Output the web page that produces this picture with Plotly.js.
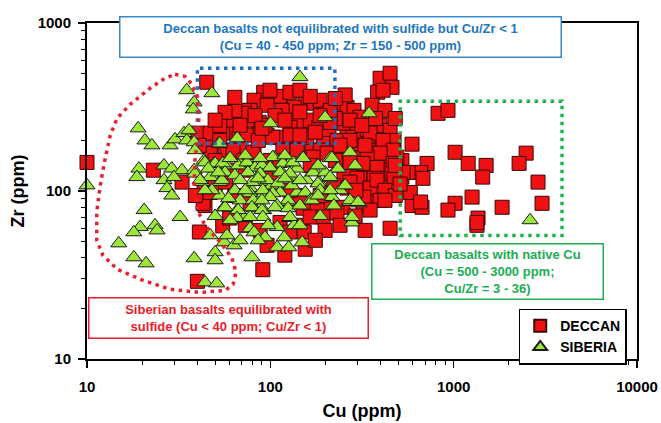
<!DOCTYPE html>
<html><head><meta charset="utf-8">
<script src="https://cdn.plot.ly/plotly-3.0.1.min.js"></script>
<style>html,body{margin:0;padding:0;background:#fff}#chart{width:661px;height:423px}</style>
</head><body><div id="chart"></div>
<script>
// ---- Data (Cu ppm, Zr ppm) ----
var deccanCu = [10,45,23,33,41,55,40,91,155,44,43.5,450,217,149,153,96,60,
 397,450,385,461,412,
 822,931,593,522,716,1018,1200,1503,1440,2485,2275,2885,3034,1837,1260,1358,1340,1018,931,593,672,580,660,660,680,564,522,1340,
 92,113,81.5,155,173,135,116,77.5,96,246,262,286,308,
 140,165,128,87,74.6,184,155,209,252,297,337,397,450,397,473,113,96,262,297,81.5,169,196,252,297,359,407,450,490,368,324,417,123,140,
 72,70,49,60,67.5,48,58,68,
 158,194,231,283,350,412,467,397,337,320,382,467,491,433,363,308,272,337,363,320,249,212,180,151,165,194,231,256,187,204,171,530,461,
 40,47,55,74.6,88,103,128,80.5,62.6,117,140,47,43,39,47,
 252,297,368,350,324,262,272,199,473,382,
 50,64,77.5,113,88,128,73,106,145,128,187,222,293,422,397,480,
 93.5,60,53,64,106,199,226,145,86,71,100,226,272,60,50,41,53,176,212,272,329,113,165,57,73,100,
 64,99.6,128,187,212,359,422,480,272,240,316,375,82.5,120,145,90,68.4,56.6,50,187,256,145,165,226,480,510,422,350,290,240,199,176,120,329];
var deccanZr = [148,444,133,113,57,62,29,34,45,82,98,60,80,62.5,57,47.5,69,
 469,502,387,414,398,
 290,302,190,152,146,170,146,142,121,168,146,113,84.5,80,92,69,62.5,84.5,77,82,80,98,86,129,119,129,121,65,
 387,366,347,351,333,315,302,302,324,333,315,302,275,
 256,264,239,256,264,239,215,221,253,239,224,246,230,200,200,209,215,209,192,170,175,180,168,157,175,180,157,159,138,133,133,175,182,
 302,290,215,224,206,182,175,180,
 209,192,200,209,221,200,175,168,159,146,138,146,121,119,116,119,127,101,88,82,80,79,77,79,70,70,74,133,175,168,159,129,127,
 221,221,221,215,221,209,215,170,175,175,175,168,84.5,94,98,
 124,119,119,104,92,104,113,98,119,116,
 108,94,84.5,65,58.3,57,62.5,108,94,101,94,108,101,101,88,94,
 246,264,246,302,281,296,270,296,200,152,152,152,148,133,152,187,200,224,256,200,187,152,142,113,133,119,
 361,398,387,347,302,324,302,270,264,187,246,270,281,264,215,236,246,294,264,281,373,398,366,355,142,110,88,77,71,62.5,58.3,50.9,41.5,58.3];

var siberiaCu = [10,35,48,38.4,38,145,19,20.7,22.6,28.4,30.2,33.8,35,38.4,36,52.5,66,43.5,49.3,58,68.4,19.2,26.3,29,33,38.4,18.7,26.3,29.8,27.3,29,20.5,19.5,18,23.5,24.1,32.2,14.9,18,21,38.4,50,50,44,51,56,63.4,42.4,53,63.4,56,66,72,58,
 199,100,346,272,105,149,212,128,231,81.5,92,113,140,173,
 88,77.5,102,128,158,184,209,113,140,155,90,81.5,92,109,123,165,240,217,272,305,279,77.5,81.5,93.5,109,128,135,119,109,126,149,79.4,
 53,38.8,44,50,55,66.7,74.6,82.5,90,103,99.6,117,133,38.8,47,56.6,64,75.5,88,113,128,41.4,54.5,79.4,97,110,131,64,77.5,91,103,53,125,68.4,80.5,99.6,109,56.6,66.7,79.4,90,106,125,91,65.8,77.5,128,
 217,234,151,171,199,212,182,187,169,272,301,279,2612,
 45.9,60.3,73,88,120,52,68.4,85.7,120,145,48,59.2,73,90,145,182,212,256,50,60.3,97,145,187,222,47,68.4,85.7,44,290,182];
var siberiaZr = [108,398,382,337,306,476,236,200,187,187,203,221,200,195,230,192,206,152,146,142,146,136,142,136,133,133,121,116,121,104,94,77,61,56.8,62.5,58.3,70,48.8,40.3,37.1,39.8,43.2,38.7,28.6,28.2,49.5,47.5,113,113,101,80,77,69,54.5,
 275,253,290,170,159,157,157,148,136,138,138,133,136,133,
 113,104,108,119,116,113,119,98,98,98,94,79,77,80,86,88,101,92,86,84.5,65,60,56.8,53,61,69,62.5,53,46.2,46.2,49.5,40.3,
 192,175,148,146,146,142,148,138,142,159,138,146,148,127,121,129,124,129,127,129,127,116,116,113,116,111,108,101,97,101,97,94,88,88,88,92,82,80,77,80,77,80,79,70,69,70,70,
 157,136,157,129,129,121,111,101,88,88,86,70,67,
 136,157,163,157,163,129,116,119,119,116,101,90.5,101,88,82,94,101,108,71,67,62.5,62.5,71,82,54.5,50.9,50.9,101,142,142];

var seriesNames = ['DECCAN', 'SIBERIA'];
var xTitle = 'Cu (ppm)';
var yTitle = 'Zr (ppm)';
var xTickVals = [10, 100, 1000, 10000];
var xTickText = ['10', '100', '1000', '10000'];
var yTickVals = [10, 100, 1000];
var yTickText = ['10', '100', '1000'];

// Outlined field regions (Cu, Zr)
var blueBoxCu = [40, 225], blueBoxZr = [192, 537];
var greenBoxCu = [511, 3900], greenBoxZr = [54.3, 342];
var siberiaFieldCu = [30.2,34.2,37.4,40,40.8,40.3,38.8,38.4,40,44,54.5,61.8,65,62.6,56.6,41.4,28.4,20.2,14.6,12.2,11.3,11.3,11.8,12.5,13.4,14.6,17.2,22.1,26.6];
var siberiaFieldZr = [495,482,431,361,282,215,152,108,77,62.5,48.2,39.8,32.8,27.8,25.6,24.9,26,29.4,34.2,41.5,50.9,75,108,152,215,271,328,409,469];

var noteBlue = 'Deccan basalts not equilibrated with sulfide but Cu/Zr &lt; 1<br>(Cu = 40 - 450 ppm; Zr = 150 - 500 ppm)';
var noteRed = 'Siberian basalts equilibrated with<br>sulfide (Cu &lt; 40 ppm; Cu/Zr &lt; 1)';
var noteGreen = 'Deccan basalts with native Cu<br>(Cu = 500 - 3000 ppm;<br>Cu/Zr = 3 - 36)';

// ---- Build ----
var F = 'Liberation Sans, Arial, Helvetica, sans-serif';
var RED = '#e8202a', BLUE = '#2176bd', GREEN = '#20ad55';

var traces = [
  {type:'scatter', mode:'markers', name:seriesNames[0], x:deccanCu, y:deccanZr, cliponaxis:false,
   marker:{symbol:'square', size:14, color:'#f01212', line:{color:'#3a0505', width:1}}},
  {type:'scatter', mode:'markers', name:seriesNames[1], x:siberiaCu, y:siberiaZr, cliponaxis:false,
   marker:{symbol:'triangle-up', size:14, color:'#9de63a', line:{color:'#1a1a1a', width:1}}}
];

var path = siberiaFieldCu.map(function(c,i){return (i?'L':'M')+c+','+siberiaFieldZr[i];}).join(' ')+' Z';

function axis(title, tv, tt){
  return {type:'log', showgrid:false, zeroline:false, showline:true, linecolor:'#000', linewidth:2, mirror:true,
    ticks:'outside', ticklen:7, tickwidth:1.5, tickcolor:'#000', tickmode:'array', tickvals:tv, ticktext:tt,
    tickfont:{family:F, size:15, color:'#000', weight:'bold'},
    minor:{ticks:'outside', ticklen:4, tickwidth:1, tickcolor:'#000', tickmode:'linear', dtick:'D1', showgrid:false},
    title:{text:title, font:{family:F, size:18, color:'#000', weight:'bold'}}};
}
var xa = axis(xTitle, xTickVals, xTickText); xa.range=[1,4]; xa.ticklabelstandoff = 6; xa.title.standoff = 10;
var ya = axis(yTitle, yTickVals, yTickText); ya.range=[1,3]; ya.ticklabelstandoff = 4; ya.title.standoff = 8;

var layout = {
  width:661, height:423, margin:{l:87, r:24, t:23, b:64},
  paper_bgcolor:'#fff', plot_bgcolor:'#fff',
  font:{family:F, color:'#000'},
  xaxis:xa, yaxis:ya,
  showlegend:true,
  legend:{x:0.785, y:0.15, xanchor:'left', yanchor:'top', bgcolor:'#fff', bordercolor:'#000', borderwidth:1.5,
    font:{family:F, size:14, color:'#000', weight:'bold'}, itemsizing:'constant'},
  shapes:[
    {type:'rect', xref:'x', yref:'y', x0:blueBoxCu[0], x1:blueBoxCu[1], y0:blueBoxZr[0], y1:blueBoxZr[1],
     line:{color:'#1f6fbf', width:3.5, dash:'3.5px,4.5px'}},
    {type:'rect', xref:'x', yref:'y', x0:greenBoxCu[0], x1:greenBoxCu[1], y0:greenBoxZr[0], y1:greenBoxZr[1],
     line:{color:'#22b14c', width:3.5, dash:'3.5px,4.5px'}},
    {type:'path', xref:'x', yref:'y', path:path, line:{color:RED, width:3.5, dash:'3.5px,4.5px'}}
  ],
  annotations:[
    {xref:'paper', yref:'paper', x:0.46, y:0.958, xanchor:'center', yanchor:'middle', showarrow:false,
     text:noteBlue, font:{family:F, size:13, color:BLUE, weight:'bold'}, align:'center',
     bgcolor:'#fff', bordercolor:'#3a86c6', borderwidth:1.5, borderpad:2, width:436, height:35},
    {xref:'paper', yref:'paper', x:0.2564, y:0.122, xanchor:'center', yanchor:'middle', showarrow:false,
     text:noteRed, font:{family:F, size:13, color:RED, weight:'bold'}, align:'center',
     bgcolor:'#fff', bordercolor:RED, borderwidth:1.5, borderpad:2, width:274, height:35},
    {xref:'paper', yref:'paper', x:0.7273, y:0.2604, xanchor:'center', yanchor:'middle', showarrow:false,
     text:noteGreen, font:{family:F, size:13, color:GREEN, weight:'bold'}, align:'center',
     bgcolor:'#fff', bordercolor:GREEN, borderwidth:1.5, borderpad:2, width:226, height:50}
  ]
};
Plotly.newPlot('chart', traces, layout, {displayModeBar:false, staticPlot:true});
</script></body></html>
